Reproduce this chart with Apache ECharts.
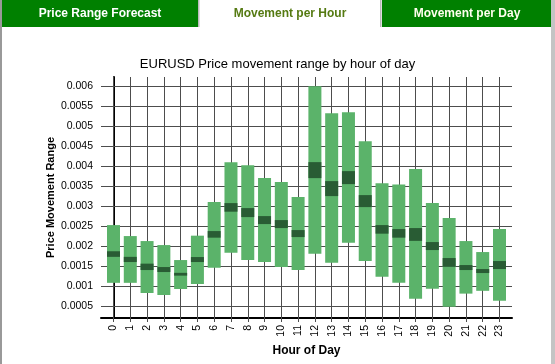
<!DOCTYPE html>
<html>
<head>
<meta charset="utf-8">
<script src="https://cdn.jsdelivr.net/npm/echarts@6/dist/echarts.min.js"></script>
<style>
html,body{margin:0;padding:0;background:#fff;}
#chart{width:555px;height:364px;}
</style>
</head>
<body>
<div id="chart"></div>
<script>
var hours = [0,1,2,3,4,5,6,7,8,9,10,11,12,13,14,15,16,17,18,19,20,21,22,23];
var rangeLow  = [0.00108,0.00108,0.000825,0.000775,0.000925,0.00105,0.00146,0.00183,0.00165,0.0016,0.001475,0.0014,0.00181,0.00158,0.00208,0.001625,0.00123,0.00108,0.00068,0.00093,0.00048,0.00081,0.00088,0.00063];
var rangeHigh = [0.002525,0.00225,0.002125,0.002025,0.00165,0.00226,0.0031,0.0041,0.00402,0.0037,0.0036,0.003225,0.006,0.005325,0.00535,0.004625,0.00357,0.00354,0.003925,0.003075,0.0027,0.002125,0.00185,0.002425];
var bandLow   = [0.00173,0.0016,0.0014,0.00135,0.00126,0.0016,0.00221,0.00286,0.002725,0.00255,0.00245,0.002225,0.0037,0.00325,0.00355,0.002975,0.00231,0.00221,0.00213,0.0019,0.00148,0.0014,0.001325,0.001425];
var bandHigh  = [0.00187,0.00173,0.00156,0.001475,0.00133,0.001725,0.002375,0.003075,0.00295,0.00275,0.00265,0.0024,0.0041,0.003625,0.003875,0.003275,0.002525,0.002425,0.00245,0.0021,0.0017,0.001525,0.001425,0.001625];
var yTickLabels = ['0.0005','0.001','0.0015','0.002','0.0025','0.003','0.0035','0.004','0.0045','0.005','0.0055','0.006'];
var xTickLabels = hours.map(String);
var tabLabels = ['Price Range Forecast','Movement per Hour','Movement per Day'];

var yTicks = yTickLabels.map(Number);
var xMin = -0.745, xMax = 23.745, yMin = 0.0002, yMax = 0.00623;
var data = hours.map(function(h,i){ return [h, rangeLow[i], rangeHigh[i], bandLow[i], bandHigh[i]]; });

var chart = echarts.init(document.getElementById('chart'), null, {renderer:'canvas'});
var light = '#5bb36a', dark = '#295c34', gridColor = '#4d4d4d';
var FONT = 'Arial, "Liberation Sans", sans-serif';

var gridLines = yTicks.map(function(v){ return [{coord:[xMin, v]}, {coord:[xMax, v]}]; })
  .concat(hours.map(function(h){ return [{coord:[h, yMin]}, {coord:[h, yMax]}]; }));

var option = {
  animation: false,
  backgroundColor: '#fff',
  textStyle: {fontFamily: FONT},
  title: {
    text: 'EURUSD Price movement range by hour of day',
    left: 'center', top: 58, padding: 0,
    textStyle: {fontSize: 13, fontWeight: 'normal', color: '#000', fontFamily: FONT}
  },
  graphic: [
    {type:'rect', left:0, top:0, shape:{width:2, height:364}, style:{fill:'#999'}},
    {type:'rect', left:551, top:0, shape:{width:4, height:364}, style:{fill:'#c4c4c4'}},
    {type:'rect', left:2, top:0, shape:{width:196, height:27}, style:{fill:'#008000'}},
    {type:'rect', left:198, top:0, shape:{width:1.5, height:27}, style:{fill:'#bbbbbb'}},
    {type:'rect', left:380, top:0, shape:{width:1.5, height:27}, style:{fill:'#bbbbbb'}},
    {type:'rect', left:382, top:0, shape:{width:169, height:27}, style:{fill:'#008000'}},
    {type:'text', x:100, y:13.5, style:{text:tabLabels[0], fill:'#ffffff', font:'bold 12px ' + FONT, textAlign:'center', textVerticalAlign:'middle'}},
    {type:'text', x:290, y:13.5, style:{text:tabLabels[1], fill:'#557a12', font:'bold 12px ' + FONT, textAlign:'center', textVerticalAlign:'middle'}},
    {type:'text', x:467, y:13.5, style:{text:tabLabels[2], fill:'#ffffee', font:'bold 12px ' + FONT, textAlign:'center', textVerticalAlign:'middle'}}
  ],
  grid: {left: 101, right: 43, top: 77, bottom: 46, containLabel: false},
  xAxis: {
    type: 'value', min: xMin, max: xMax,
    name: 'Hour of Day', nameLocation: 'middle', nameGap: 22,
    nameTextStyle: {fontSize: 12, fontWeight: 'bold', color: '#000'},
    axisLine: {show: true, onZero: false, lineStyle: {color: '#000', width: 2}},
    axisTick: {show: true, length: 4, customValues: hours, lineStyle: {color: gridColor}},
    axisLabel: {customValues: hours, rotate: 90, fontSize: 10.5, color: '#000', margin: 7,
      formatter: function(v){ var i = hours.indexOf(Math.round(v)); return i >= 0 ? xTickLabels[i] : ''; }},
    splitLine: {show: false}
  },
  yAxis: {
    type: 'value', min: yMin, max: yMax,
    name: 'Price Movement Range', nameLocation: 'middle', nameGap: 45, nameMoveOverlap: false,
    nameTextStyle: {fontSize: 11, fontWeight: 'bold', color: '#000'},
    axisLine: {show: true, lineStyle: {color: '#000', width: 2}},
    axisTick: {show: true, length: 3, customValues: yTicks, lineStyle: {color: gridColor}},
    axisLabel: {customValues: yTicks, fontSize: 10.5, color: '#000', margin: 8,
      formatter: function(v){
        for (var i = 0; i < yTicks.length; i++) { if (Math.abs(yTicks[i] - v) < 1e-9) return yTickLabels[i]; }
        return '';
      }},
    splitLine: {show: false}
  },
  series: [
    {
      type: 'line', data: [], z: 1, silent: true,
      markLine: {
        silent: true, symbol: ['none','none'], animation: false,
        label: {show: false},
        lineStyle: {color: gridColor, width: 1, type: 'solid'},
        emphasis: {disabled: true},
        data: gridLines
      }
    },
    {
      type: 'custom', z: 5, silent: true,
      encode: {x: 0, y: [1,2,3,4]},
      data: data,
      renderItem: function(params, api){
        var x = api.value(0);
        var pH = api.coord([x, api.value(2)]);
        var pL = api.coord([x, api.value(1)]);
        var bH = api.coord([x, api.value(4)]);
        var bL = api.coord([x, api.value(3)]);
        var w = 13;
        return {type:'group', children:[
          {type:'rect', shape:{x: pH[0]-w/2, y: pH[1], width: w, height: pL[1]-pH[1]}, style:{fill: light}},
          {type:'rect', shape:{x: bH[0]-w/2, y: bH[1], width: w, height: bL[1]-bH[1]}, style:{fill: dark}}
        ]};
      }
    }
  ]
};
chart.setOption(option);
</script>
</body>
</html>
